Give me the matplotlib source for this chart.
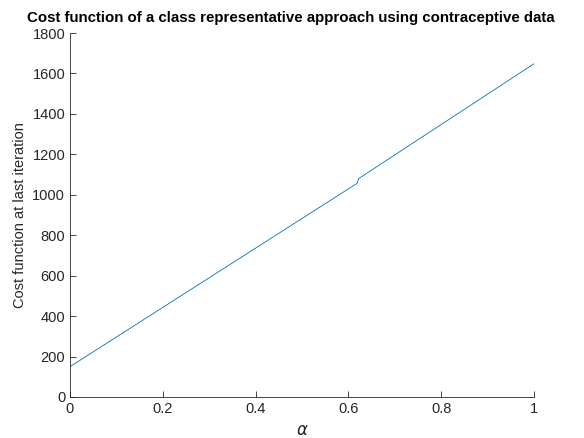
import matplotlib
matplotlib.use("Agg")
import matplotlib.pyplot as plt

plt.rcParams['font.family'] = ['Liberation Sans', 'DejaVu Sans']

# cost vs alpha
alpha = [0.0, 0.619, 0.622, 1.0]
cost = [150, 1057, 1080, 1648]

fig = plt.figure(figsize=(5.84, 4.38), dpi=100)
ax = fig.add_axes([70/584, 1 - 397/438, 464/584, 364/438])

ax.plot(alpha, cost, color=(0, 0.447, 0.741), linewidth=0.6)

ax.set_xlim(0, 1)
ax.set_ylim(0, 1800)
ax.set_xticks([0, 0.2, 0.4, 0.6, 0.8, 1])
ax.set_xticklabels(['0', '0.2', '0.4', '0.6', '0.8', '1'])
ax.set_yticks(range(0, 1801, 200))

grey = (0.15, 0.15, 0.15)
for s in ['top', 'right']:
    ax.spines[s].set_visible(False)
for s in ['left', 'bottom']:
    ax.spines[s].set_color(grey)
    ax.spines[s].set_linewidth(0.6)
ax.tick_params(direction='in', length=4, width=0.6, colors=grey, labelsize=10.5)

ax.set_xlabel(r'$\alpha$', fontsize=12, color=grey, labelpad=5)
ax.set_ylabel('Cost function at last iteration', fontsize=10.5, color=grey)
ax.set_title('Cost function of a class representative approach using contraceptive data',
             fontsize=10.8, fontweight='bold', pad=8, x=0.475)

fig.savefig('out.png', dpi=100)
